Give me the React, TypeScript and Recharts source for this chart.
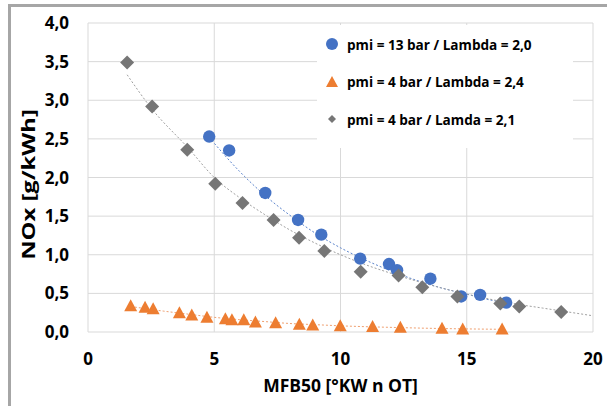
import { ComposedChart, Scatter, Line, XAxis, YAxis, CartesianGrid, Label } from 'recharts';

// pmi = 13 bar / Lambda = 2,0
const blueX = [4.8, 5.59, 7.02, 8.32, 9.24, 10.78, 11.92, 12.24, 13.56, 14.78, 15.53, 16.56];
const blueY = [2.53, 2.35, 1.8, 1.45, 1.26, 0.95, 0.88, 0.8, 0.69, 0.46, 0.48, 0.38];
// pmi = 4 bar / Lambda = 2,4
const orangeX = [1.69, 2.26, 2.58, 3.62, 4.11, 4.71, 5.44, 5.7, 6.17, 6.63, 7.43, 8.37, 8.9, 9.99, 11.27, 12.37, 14.02, 14.84, 16.4];
const orangeY = [0.34, 0.32, 0.3, 0.25, 0.22, 0.19, 0.17, 0.16, 0.16, 0.13, 0.12, 0.1, 0.09, 0.08, 0.07, 0.06, 0.05, 0.04, 0.04];
// pmi = 4 bar / Lamda = 2,1
const grayX = [1.55, 2.54, 3.93, 5.04, 6.12, 7.35, 8.36, 9.36, 10.8, 12.3, 13.24, 14.63, 16.33, 17.08, 18.74];
const grayY = [3.49, 2.92, 2.36, 1.92, 1.67, 1.45, 1.22, 1.05, 0.78, 0.73, 0.58, 0.46, 0.37, 0.33, 0.26];

// trendlines
const blueTrendX = [4.8, 6, 7, 8, 9, 10, 11, 12, 13, 14, 15, 16, 16.6];
const blueTrendY = [2.52, 2.08, 1.77, 1.51, 1.28, 1.09, 0.93, 0.79, 0.67, 0.57, 0.49, 0.41, 0.38];
const orangeTrendX = [1.7, 3, 4, 5, 6, 7, 8, 9, 10, 12, 14, 16.4];
const orangeTrendY = [0.33, 0.27, 0.23, 0.19, 0.16, 0.135, 0.11, 0.095, 0.08, 0.06, 0.045, 0.035];
const grayTrendX = [1.55, 2.5, 4, 5, 6, 7, 8, 9, 10, 11, 12, 13, 14, 15, 16, 17, 18, 19, 20];
const grayTrendY = [3.33, 2.9, 2.37, 2.0, 1.74, 1.52, 1.32, 1.15, 1.0, 0.87, 0.76, 0.66, 0.57, 0.49, 0.42, 0.36, 0.31, 0.26, 0.21];

const xTicks = [0, 5, 10, 15, 20];
const yTicks = [0, 0.5, 1, 1.5, 2, 2.5, 3, 3.5, 4];
const seriesNames = ['pmi = 13 bar / Lambda = 2,0', 'pmi = 4 bar / Lambda = 2,4', 'pmi = 4 bar / Lamda = 2,1'];

const BLUE = '#4472C4';
const ORANGE = '#ED7D31';
const GRAY = '#767676';
const FONT = '"Open Sans", sans-serif';

const pts = (xs: number[], ys: number[]) => xs.map((x, i) => ({ x, y: ys[i] }));

const Dot = (p: any) => <circle cx={p.cx} cy={p.cy} r={6.2} fill={BLUE} />;
const Tri = (p: any) => <path d={`M${p.cx},${p.cy - 6.5}L${p.cx + 6.5},${p.cy + 5.5}L${p.cx - 6.5},${p.cy + 5.5}Z`} fill={ORANGE} />;
const Dia = (p: any) => <path d={`M${p.cx},${p.cy - 7}L${p.cx + 7},${p.cy}L${p.cx},${p.cy + 7}L${p.cx - 7},${p.cy}Z`} fill={GRAY} />;

const markers = [
  <svg width={14} height={14}><circle cx={7} cy={7} r={6} fill={BLUE} /></svg>,
  <svg width={14} height={14}><path d="M7,1L13,12L1,12Z" fill={ORANGE} /></svg>,
  <svg width={14} height={14}><path d="M7,3L11,7L7,11L3,7Z" fill={GRAY} /></svg>,
];

// the y title is stretched along its length in the original
const YTitle = (p: any) => {
  const vb = p.viewBox;
  const cx = vb.x + 28;
  const cy = vb.y + vb.height / 2 + 7;
  return (
    <text transform={`translate(${cx},${cy}) rotate(-90) scale(1.4,1)`} textAnchor="middle" dominantBaseline="central"
      fill="#000" fontFamily={FONT} fontWeight={700} fontSize={17}>NOx [g/kWh]</text>
  );
};

function LegendBox() {
  return (
    <div style={{ position: 'absolute', left: 317, top: 25, background: '#fff', width: 256, height: 123, fontFamily: FONT, fontWeight: 700, fontSize: 13.6, color: '#000' }}>
      {seriesNames.map((n, i) => (
        <div key={n} style={{ position: 'absolute', left: 8, top: 12 + i * 37.5, display: 'flex', alignItems: 'center', height: 14 }}>
          {markers[i]}
          <span style={{ marginLeft: 8, whiteSpace: 'nowrap' }}>{n}</span>
        </div>
      ))}
    </div>
  );
}

export default function App() {
  const tick = { fill: '#000', fontFamily: FONT, fontWeight: 700, fontSize: 17 };
  return (
    <div style={{ position: 'absolute', left: 0, top: 0, width: 607, height: 406, background: '#fff', overflow: 'hidden' }}>
      <div style={{ position: 'absolute', left: 8, top: 4, width: 620, height: 420, borderTop: '3px solid #a6a6a6', borderLeft: '3px solid #a6a6a6' }} />
      <div style={{ position: 'absolute', left: 0, top: 0 }}>
        <ComposedChart width={607} height={406} margin={{ top: 23, right: 14, left: 0, bottom: 0 }}>
          <CartesianGrid stroke="#d9d9d9" />
          <XAxis type="number" dataKey="x" domain={[0, 20]} ticks={xTicks} interval={0} height={74} axisLine={false} tickLine={false} tickSize={0} tickMargin={21} tick={tick}
            label={{ value: 'MFB50 [°KW n OT]', position: 'insideBottom', offset: 14, style: { fill: '#000', fontFamily: FONT, fontWeight: 700, fontSize: 17.5 } }} />
          <YAxis type="number" dataKey="y" domain={[0, 4]} ticks={yTicks} interval={0} width={88} axisLine={false} tickLine={false} tickSize={0} tickMargin={19} tick={tick}
            tickFormatter={(v: number) => v.toFixed(1).replace('.', ',')}>
            <Label content={YTitle} />
          </YAxis>
          <Line data={pts(blueTrendX, blueTrendY)} dataKey="y" type="monotone" stroke="#5b84cc" strokeWidth={1} strokeDasharray="2 2" dot={false} activeDot={false} legendType="none" isAnimationActive={false} />
          <Line data={pts(orangeTrendX, orangeTrendY)} dataKey="y" type="monotone" stroke="#f0a070" strokeWidth={1} strokeDasharray="2 2" dot={false} activeDot={false} legendType="none" isAnimationActive={false} />
          <Line data={pts(grayTrendX, grayTrendY)} dataKey="y" type="monotone" stroke="#a0a0a0" strokeWidth={1} strokeDasharray="2 2" dot={false} activeDot={false} legendType="none" isAnimationActive={false} />
          <Scatter name={seriesNames[0]} data={pts(blueX, blueY)} shape={Dot} isAnimationActive={false} />
          <Scatter name={seriesNames[1]} data={pts(orangeX, orangeY)} shape={Tri} isAnimationActive={false} />
          <Scatter name={seriesNames[2]} data={pts(grayX, grayY)} shape={Dia} isAnimationActive={false} />
        </ComposedChart>
      </div>
      <LegendBox />
    </div>
  );
}
